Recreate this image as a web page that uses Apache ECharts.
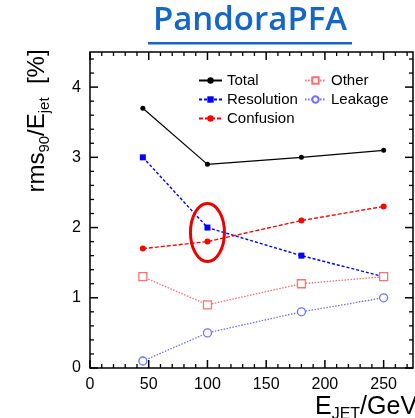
<!DOCTYPE html>
<html>
<head>
<meta charset="utf-8">
<script src="https://cdn.jsdelivr.net/npm/echarts@6/dist/echarts.min.js"></script>
<style>
  html, body { margin: 0; padding: 0; background: #fff; }
  #chart { width: 415px; height: 418px; }
</style>
</head>
<body>
<div id="chart"></div>
<script>
// Jet energies (GeV) and rms90/Ejet contributions (%)
const energies   = [45, 100, 180, 250];
const total      = [3.7, 2.9, 3.0, 3.1];
const resolution = [3.0, 2.0, 1.6, 1.3];
const confusion  = [1.7, 1.8, 2.1, 2.3];
const other      = [1.3, 0.9, 1.2, 1.3];
const leakage    = [0.1, 0.5, 0.8, 1.0];

const xTicks = { min: 0, max: 275, step: 50, minor: 10 };
const yTicks = { min: 0, max: 4.5, step: 1, minor: 0.2 };

const pairs = ys => energies.map((e, i) => [e, ys[i]]);

const chart = echarts.init(document.getElementById('chart'));

const FONT = '"Liberation Sans", Arial, sans-serif';
const MAJOR = 8, MINOR = 4;

// Tick positions along one axis: [value, tickLength]
function tickList(t) {
  const out = [];
  const n = Math.round((t.max - t.min) / t.minor);
  for (let i = 0; i <= n; i++) {
    const v = +(t.min + i * t.minor).toFixed(6);
    if (v > t.max) break;
    const isMajor = Math.abs(v / t.step - Math.round(v / t.step)) < 1e-6;
    out.push([v, isMajor ? MAJOR : MINOR]);
  }
  return out;
}

function series(name, ys, color, lineType, symbol, size, filled, width) {
  return {
    name, type: 'line', data: pairs(ys),
    symbol, symbolSize: size,
    lineStyle: { color, width, type: lineType },
    itemStyle: filled ? { color, borderWidth: 0 } : { color: '#fff', borderColor: color, borderWidth: 1.3 },
    z: 3
  };
}

const legendText = { color: '#000', fontSize: 15, fontFamily: FONT };

function labelAxis(t) {
  return {
    type: 'value', min: t.min, max: t.max, interval: t.step,
    axisLine: { show: false, onZero: false },
    axisTick: { show: false },
    splitLine: { show: false },
    axisLabel: { show: true, color: '#000', fontSize: 16, fontFamily: FONT, margin: 9, showMaxLabel: false }
  };
}

chart.setOption({
  animation: false,
  backgroundColor: '#fff',
  grid: { left: 90, right: 2, top: 52, bottom: 50, show: true, borderColor: '#000', borderWidth: 1.5 },
  xAxis: labelAxis(xTicks),
  yAxis: labelAxis(yTicks),
  legend: [
    {
      data: ['Total', 'Resolution', 'Confusion'],
      orient: 'vertical', left: 193, top: 68,
      itemWidth: 23, itemHeight: 8, itemGap: 4,
      textStyle: legendText, selectedMode: false
    },
    {
      data: ['Other', 'Leakage'],
      orient: 'vertical', left: 299, top: 68,
      itemWidth: 21, itemHeight: 8, itemGap: 4,
      textStyle: legendText, selectedMode: false
    }
  ],
  series: [
    series('Total', total, '#000000', 'solid', 'circle', 5, true, 1.2),
    series('Resolution', resolution, '#0000ff', [3, 2], 'rect', 6, true, 1.4),
    series('Confusion', confusion, '#ff0000', [4, 2], 'circle', 6, true, 1.4),
    series('Other', other, '#ff7070', [1.5, 1.5], 'rect', 8, false, 1.3),
    series('Leakage', leakage, '#7070ff', [1.5, 1.5], 'circle', 8, false, 1.3)
  ]
});

const toPx = (x, y) => chart.convertToPixel({ gridIndex: 0 }, [x, y]);

// Frame ticks on all four sides, pointing into the plot (ROOT style),
// placed through the grid's own scales.
const tickLines = [];
function addTick(p, dx, dy, len) {
  tickLines.push({
    type: 'line', silent: true, z: 20,
    shape: { x1: p[0], y1: p[1], x2: p[0] + dx * len, y2: p[1] + dy * len },
    style: { stroke: '#000', lineWidth: len === MAJOR ? 1.5 : 1.3 }
  });
}
tickList(xTicks).forEach(([v, len]) => {
  addTick(toPx(v, yTicks.min), 0, -1, len);
  addTick(toPx(v, yTicks.max), 0, 1, len);
});
tickList(yTicks).forEach(([v, len]) => {
  addTick(toPx(xTicks.min, v), 1, 0, len);
  addTick(toPx(xTicks.max, v), -1, 0, len);
});

// Annotation ring around the 100 GeV resolution/confusion points
const ring = toPx(100, 1.93);

chart.setOption({
  graphic: tickLines.concat([
    {
      type: 'text', x: 250, y: 4,
      style: {
        text: 'PandoraPFA', fill: '#1466c8', align: 'center', verticalAlign: 'top',
        font: '600 33px "Open Sans", "Noto Sans", sans-serif'
      }
    },
    {
      type: 'rect', shape: { x: 148, y: 42, width: 204, height: 2.5 },
      style: { fill: '#1466c8' }
    },
    {
      type: 'ellipse',
      shape: { cx: ring[0], cy: ring[1], rx: 17, ry: 29 },
      style: { fill: 'none', stroke: '#ee0000', lineWidth: 3 },
      z: 10
    },
    {
      type: 'text', x: 37, y: 121, rotation: Math.PI / 2,
      style: {
        text: '{n|rms}{s|90}{n|/E}{s|jet}{n|  [%]}',
        align: 'center', verticalAlign: 'middle',
        rich: {
          n: { fontSize: 24, fontFamily: FONT, fill: '#000', lineHeight: 26 },
          s: { fontSize: 15, fontFamily: FONT, fill: '#000', lineHeight: 14, verticalAlign: 'bottom', padding: [0, 0, -2, 0] }
        }
      }
    },
    {
      type: 'text', x: 315, y: 407,
      style: {
        text: '{n|E}{s|JET}{n|/GeV}',
        align: 'left', verticalAlign: 'middle',
        rich: {
          n: { fontSize: 25, fontFamily: FONT, fill: '#000', lineHeight: 28 },
          s: { fontSize: 16, fontFamily: FONT, fill: '#000', lineHeight: 15, verticalAlign: 'bottom', padding: [0, 0, -2, 0] }
        }
      }
    }
  ])
});
</script>
</body>
</html>
